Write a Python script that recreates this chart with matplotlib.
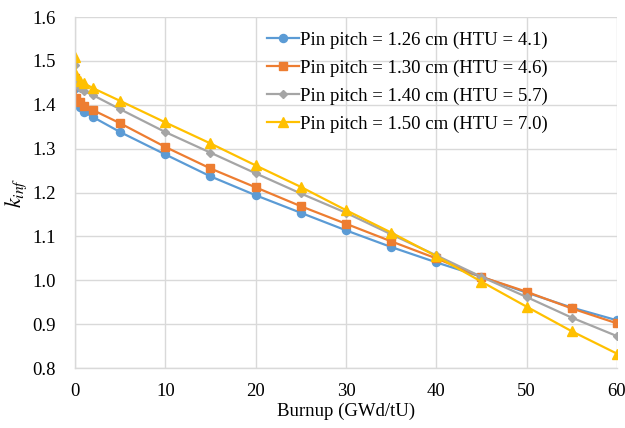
import numpy as np
import matplotlib
matplotlib.use("Agg")
import matplotlib.pyplot as plt

plt.rcParams["font.family"] = ["Liberation Serif", "DejaVu Serif"]
plt.rcParams["mathtext.fontset"] = "stix"

# burnup steps (GWd/tU)
burnup = [0, 0.1, 0.5, 1, 2, 5, 10, 15, 20, 25, 30, 35, 40, 45, 50, 55, 60]

# k_inf per pin pitch
k_126 = [1.438, 1.402, 1.394, 1.384, 1.372, 1.338, 1.287, 1.237, 1.194, 1.154,
         1.114, 1.076, 1.041, 1.008, 0.972, 0.938, 0.909]
k_130 = [1.461, 1.416, 1.407, 1.397, 1.388, 1.358, 1.304, 1.255, 1.212, 1.169,
         1.129, 1.089, 1.050, 1.008, 0.974, 0.936, 0.902]
k_140 = [1.490, 1.449, 1.438, 1.431, 1.422, 1.390, 1.338, 1.291, 1.244, 1.198,
         1.154, 1.105, 1.057, 1.008, 0.962, 0.915, 0.873]
k_150 = [1.508, 1.467, 1.455, 1.449, 1.438, 1.409, 1.360, 1.312, 1.262, 1.213,
         1.160, 1.109, 1.055, 0.997, 0.940, 0.884, 0.833]

labels = [
    "Pin pitch = 1.26 cm (HTU = 4.1)",
    "Pin pitch = 1.30 cm (HTU = 4.6)",
    "Pin pitch = 1.40 cm (HTU = 5.7)",
    "Pin pitch = 1.50 cm (HTU = 7.0)",
]

colors = ["#5B9BD5", "#ED7D31", "#A5A5A5", "#FFC000"]
markers = ["o", "s", "D", "^"]
msizes = [5.8, 5.8, 3.8, 6.5]

fig = plt.figure(figsize=(6.25, 4.28), dpi=100)
ax = fig.add_axes([0.12, 0.14, 0.867, 0.82])

for k, lab, c, m, ms in zip([k_126, k_130, k_140, k_150], labels, colors, markers, msizes):
    ax.plot(burnup, k, color=c, marker=m, markersize=ms, linewidth=1.6, label=lab)

ax.set_xlim(0, 60)
ax.set_ylim(0.8, 1.6)
ax.set_xticks(np.arange(0, 61, 10))
ax.set_yticks(np.arange(0.8, 1.61, 0.1))
ax.set_yticklabels([f"{v:.1f}" for v in np.arange(0.8, 1.61, 0.1)])
ax.grid(True, color="#d9d9d9", linewidth=1.0)
ax.set_axisbelow(True)
ax.tick_params(length=0, labelsize=13.5)
ax.tick_params(axis="y", pad=14)
ax.tick_params(axis="x", pad=11)
for s in ["top", "right"]:
    ax.spines[s].set_visible(False)
for s in ["left", "bottom"]:
    ax.spines[s].set_color("#d9d9d9")
    ax.spines[s].set_linewidth(1.0)

ax.set_xlabel("Burnup (GWd/tU)", fontsize=13.5, labelpad=2)
ax.set_ylabel(r"$k_{inf}$", fontsize=16, labelpad=2)

ax.legend(loc="upper left", bbox_to_anchor=(0.34, 0.98), frameon=False,
          fontsize=13.5, handlelength=1.7, handletextpad=0.1, labelspacing=0.57,
          borderaxespad=0)

fig.savefig("out.png", dpi=100)
